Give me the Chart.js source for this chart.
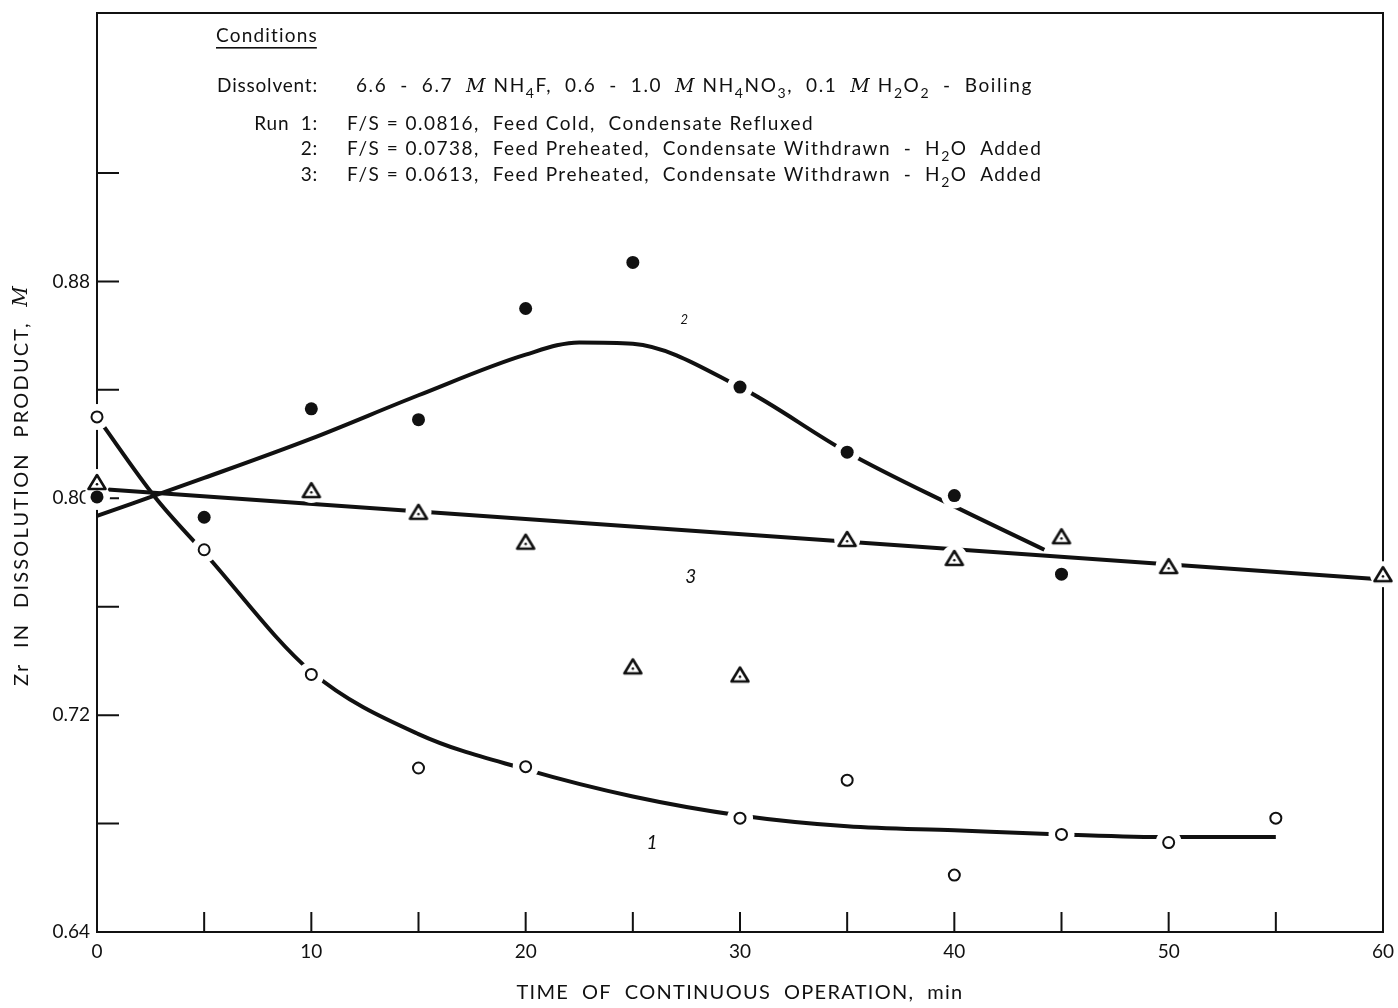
<!DOCTYPE html>
<html>
<head>
<meta charset="utf-8">
<script src="https://cdn.jsdelivr.net/npm/chart.js@4.4.1/dist/chart.umd.min.js"></script>
<style>
  html, body { margin: 0; padding: 0; background: #fff; }
  #chart { display: block; }
</style>
</head>
<body>
<canvas id="chart" width="1398" height="1008"></canvas>
<script>
// measured points, one set per run
const run1Time = [0, 5, 10, 15, 20, 30, 35, 40, 45, 50, 55];
const run1Zr   = [0.830, 0.781, 0.735, 0.7005, 0.701, 0.682, 0.696, 0.661, 0.676, 0.673, 0.682];

const run2Time = [0, 5, 10, 15, 20, 25, 30, 35, 40, 45];
const run2Zr   = [0.8005, 0.793, 0.833, 0.829, 0.870, 0.887, 0.841, 0.817, 0.801, 0.772];

const run3Time = [0, 10, 15, 20, 25, 30, 35, 40, 45, 50, 60];
const run3Zr   = [0.806, 0.803, 0.795, 0.784, 0.738, 0.735, 0.785, 0.778, 0.786, 0.775, 0.772];

// hand-drawn fitted curves
const curve1Time = [0, 2.7, 5, 10, 15, 20, 25, 30, 35, 40, 45, 50, 55];
const curve1Zr   = [0.830, 0.8005, 0.780, 0.736, 0.713, 0.700, 0.690, 0.683, 0.679, 0.6775, 0.676, 0.675, 0.675];

const curve2Time = [0, 5, 10, 15, 20, 22.5, 25, 30, 35, 40, 44.2];
const curve2Zr   = [0.7935, 0.8075, 0.822, 0.838, 0.853, 0.8575, 0.857, 0.841, 0.817, 0.797, 0.781];

const curve3Time = [0, 60];
const curve3Zr   = [0.8035, 0.770];

// axis ticks
const xTickLabels = [0, 10, 20, 30, 40, 50, 60];
const xTickMarks  = [5, 10, 15, 20, 25, 30, 35, 40, 45, 50, 55];
const yTickLabels = [0.64, 0.72, 0.80, 0.88];
const yTickMarks  = [0.68, 0.72, 0.76, 0.80, 0.84, 0.88, 0.92];

// curve numbers placed on the plot
const curveNames = ["1", "2", "3"];
const curveNameTime = [25.9, 27.4, 27.7];
const curveNameZr   = [0.673, 0.866, 0.771];

const FONT = "Lato";
const ink = "#111";

const pts = (xs, ys) => xs.map((x, i) => ({ x: x, y: ys[i] }));

// triangle marker with a dot in the middle
const triangle = document.createElement("canvas");
triangle.width = 22;
triangle.height = 20;
(() => {
    const t = triangle.getContext("2d");
    t.strokeStyle = ink;
    t.fillStyle = "#fff";
    t.lineWidth = 2.6;
    t.lineJoin = "round";
    t.beginPath();
    t.moveTo(11, 3);
    t.lineTo(19.5, 17);
    t.lineTo(2.5, 17);
    t.closePath();
    t.fill();
    t.stroke();
    t.fillStyle = ink;
    t.beginPath();
    t.arc(11, 12.3, 1.3, 0, Math.PI * 2);
    t.fill();
})();

const curveStyle = {
    showLine: true,
    pointRadius: 0,
    borderColor: ink,
    borderWidth: 4,
    cubicInterpolationMode: "monotone",
    fill: false,
    clip: false,
    order: 3
};

const halo = data => ({
    data: data,
    pointRadius: 13,
    pointBackgroundColor: "#fff",
    pointBorderWidth: 0,
    showLine: false,
    clip: false,
    order: 2
});

// frame and inward tick marks, drawn under the markers so halos break them
const framePlugin = {
    id: "frame",
    beforeDatasetsDraw(chart) {
        const { ctx, chartArea: a } = chart;
        const xs = chart.scales.x, ys = chart.scales.y;
        ctx.save();
        ctx.strokeStyle = ink;
        ctx.lineWidth = 2;
        ctx.strokeRect(a.left, a.top, a.right - a.left, a.bottom - a.top);
        ctx.beginPath();
        yTickMarks.forEach(v => {
            const y = ys.getPixelForValue(v);
            ctx.moveTo(a.left, y);
            ctx.lineTo(a.left + 22, y);
        });
        xTickMarks.forEach(v => {
            const x = xs.getPixelForValue(v);
            ctx.moveTo(x, a.bottom);
            ctx.lineTo(x, a.bottom - 20);
        });
        ctx.stroke();
        ctx.restore();
    }
};

// draw a run of text pieces: plain, italic serif M, or subscript
function drawRich(ctx, x, y, parts, size) {
    parts.forEach(p => {
        let font = `${size}px ${FONT}`;
        let dy = 0;
        if (p.it) font = `italic ${size}px "DejaVu Serif"`;
        if (p.sub) { font = `${Math.round(size * 0.72)}px ${FONT}`; dy = size * 0.3; }
        ctx.font = font;
        ctx.fillText(p.t, x, y + dy);
        x += ctx.measureText(p.t).width;
    });
    return x;
}

function richWidth(ctx, parts, size) {
    let w = 0;
    parts.forEach(p => {
        let font = `${size}px ${FONT}`;
        if (p.it) font = `italic ${size}px "DejaVu Serif"`;
        if (p.sub) font = `${Math.round(size * 0.72)}px ${FONT}`;
        ctx.font = font;
        w += ctx.measureText(p.t).width;
    });
    return w;
}

const notesPlugin = {
    id: "notes",
    afterDraw(chart) {
        const { ctx, chartArea: a } = chart;
        const xs = chart.scales.x, ys = chart.scales.y;
        ctx.save();
        ctx.fillStyle = ink;
        ctx.textBaseline = "alphabetic";
        ctx.textAlign = "left";

        // conditions block
        ctx.letterSpacing = "1.2px";
        ctx.font = `19px ${FONT}`;
        ctx.fillText("Conditions", 216, 42);
        const w = ctx.measureText("Conditions").width;
        ctx.fillRect(216, 47, w - 1.2, 1.6);

        ctx.letterSpacing = "0.8px";
        ctx.textAlign = "right";
        ctx.fillText("Dissolvent:", 318, 92);
        ctx.fillText("Run  1:", 318, 130);
        ctx.fillText("2:", 318, 155);
        ctx.fillText("3:", 318, 181);
        ctx.textAlign = "left";

        ctx.letterSpacing = "1.6px";
        drawRich(ctx, 356, 92, [
            { t: "6.6  -  6.7  " }, { t: "M", it: true }, { t: " NH" }, { t: "4", sub: true },
            { t: "F,  0.6  -  1.0  " }, { t: "M", it: true }, { t: " NH" }, { t: "4", sub: true },
            { t: "NO" }, { t: "3", sub: true }, { t: ",  0.1  " }, { t: "M", it: true },
            { t: " H" }, { t: "2", sub: true }, { t: "O" }, { t: "2", sub: true }, { t: "  -  Boiling" }
        ], 19);
        ctx.letterSpacing = "1.5px";
        drawRich(ctx, 347, 130, [{ t: "F/S = 0.0816,  Feed Cold,  Condensate Refluxed" }], 19);
        drawRich(ctx, 347, 155, [
            { t: "F/S = 0.0738,  Feed Preheated,  Condensate Withdrawn  -  H" }, { t: "2", sub: true }, { t: "O  Added" }
        ], 19);
        drawRich(ctx, 347, 181, [
            { t: "F/S = 0.0613,  Feed Preheated,  Condensate Withdrawn  -  H" }, { t: "2", sub: true }, { t: "O  Added" }
        ], 19);

        // x axis title
        ctx.letterSpacing = "1.3px";
        ctx.textAlign = "center";
        ctx.textBaseline = "middle";
        ctx.font = `20px ${FONT}`;
        ctx.fillText("TIME  OF  CONTINUOUS  OPERATION,  min", (a.left + a.right) / 2, 993);

        // curve numbers
        ctx.letterSpacing = "0px";
        curveNames.forEach((n, i) => {
            ctx.font = `italic ${i === 1 ? 13 : 19}px ${FONT}`;
            ctx.fillText(n, xs.getPixelForValue(curveNameTime[i]), ys.getPixelForValue(curveNameZr[i]));
        });

        // y axis title, rotated
        ctx.letterSpacing = "2.2px";
        ctx.translate(22, 485);
        ctx.rotate(-Math.PI / 2);
        ctx.textAlign = "left";
        const ytitle = [{ t: "Zr  IN  DISSOLUTION  PRODUCT,  " }, { t: "M", it: true }];
        drawRich(ctx, -richWidth(ctx, ytitle, 20) / 2, 0, ytitle, 20);
        ctx.restore();
    }
};

const ctx = document.getElementById("chart").getContext("2d");

new Chart(ctx, {
    type: "scatter",
    data: {
        datasets: [
            Object.assign({ data: pts(curve1Time, curve1Zr) }, curveStyle),
            Object.assign({ data: pts(curve2Time, curve2Zr) }, curveStyle),
            Object.assign({ data: pts(curve3Time, curve3Zr) }, curveStyle, { cubicInterpolationMode: "default", tension: 0 }),
            halo(pts(run1Time, run1Zr)),
            halo(pts(run2Time, run2Zr)),
            halo(pts(run3Time, run3Zr)),
            {
                label: "Run 1",
                data: pts(run1Time, run1Zr),
                pointStyle: "circle",
                pointRadius: 5.5,
                pointBorderWidth: 2,
                pointBorderColor: ink,
                pointBackgroundColor: "#fff",
                clip: false,
                order: 1
            },
            {
                label: "Run 2",
                data: pts(run2Time, run2Zr),
                pointStyle: "circle",
                pointRadius: 6.5,
                pointBorderWidth: 0,
                pointBackgroundColor: ink,
                clip: false,
                order: 1
            },
            {
                label: "Run 3",
                data: pts(run3Time, run3Zr),
                pointStyle: triangle,
                clip: false,
                order: 1
            }
        ]
    },
    options: {
        responsive: false,
        animation: false,
        events: [],
        layout: {
            padding: { top: 10, right: 15, left: 0, bottom: 0 }
        },
        scales: {
            x: {
                type: "linear",
                min: 0,
                max: 60,
                afterFit: s => { s.height = 76; s.paddingLeft = 0; s.paddingRight = 0; },
                afterBuildTicks: s => { s.ticks = xTickLabels.map(v => ({ value: v })); },
                grid: { display: false, drawTicks: false },
                border: { display: false },
                ticks: {
                    color: ink,
                    padding: 8,
                    font: { family: FONT, size: 19 },
                    maxRotation: 0
                }
            },
            y: {
                type: "linear",
                min: 0.64,
                max: 0.979,
                afterFit: s => { s.width = 97; s.paddingTop = 0; s.paddingBottom = 0; },
                afterBuildTicks: s => { s.ticks = yTickLabels.map(v => ({ value: v })); },
                grid: { display: false, drawTicks: false },
                border: { display: false },
                ticks: {
                    color: ink,
                    padding: 7,
                    font: { family: FONT, size: 19 },
                    callback: v => v.toFixed(2)
                }
            }
        },
        plugins: {
            legend: { display: false },
            tooltip: { enabled: false }
        }
    },
    plugins: [framePlugin, notesPlugin]
});
</script>
</body>
</html>
